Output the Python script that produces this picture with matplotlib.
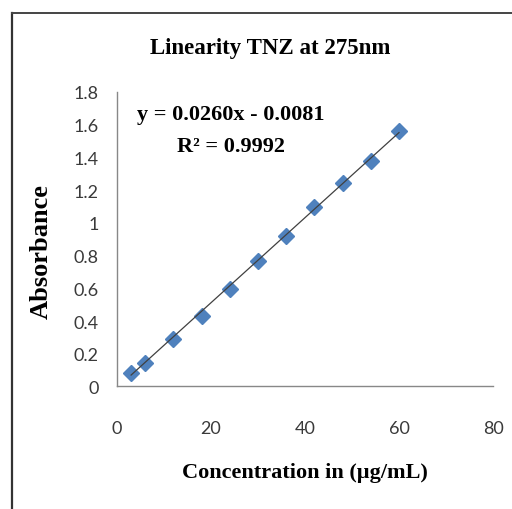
import numpy as np
import matplotlib
matplotlib.use('Agg')
import matplotlib.pyplot as plt
from matplotlib.lines import Line2D

# data
conc = [3, 6, 12, 18, 24, 30, 36, 42, 48, 54, 60]
absorb = [0.084, 0.143, 0.292, 0.431, 0.594, 0.767, 0.920, 1.094, 1.245, 1.376, 1.563]
slope = 0.0260
intercept = -0.0081
r2 = 0.9992
xticks = [0, 20, 40, 60, 80]
yticks = [0, 0.2, 0.4, 0.6, 0.8, 1, 1.2, 1.4, 1.6, 1.8]
ytick_labels = ['0', '0.2', '0.4', '0.6', '0.8', '1', '1.2', '1.4', '1.6', '1.8']

serif = 'Liberation Serif'
tickfont = 'Lato'

fig = plt.figure(figsize=(5.12, 5.10), dpi=100)
ax = fig.add_axes([0.2285, 0.2402, 0.7344, 0.5775])

x = np.array(conc)
fit_x = np.array([x.min(), x.max()])
ax.plot(fit_x, slope * fit_x + intercept, color='#404040', linewidth=0.9, zorder=3)
ax.plot(x, absorb, linestyle='none', marker='D', markersize=8,
        color='#4F81BD', markeredgecolor='#4F81BD', zorder=2)

ax.set_xlim(0, 80)
ax.set_ylim(0, 1.8)
ax.set_xticks(xticks)
ax.set_yticks(yticks)
ax.set_yticklabels(ytick_labels)
ax.tick_params(length=0, labelsize=13, colors='#3a3a3a')
ax.tick_params(axis='x', pad=24)
ax.tick_params(axis='y', pad=13)
for lab in ax.get_xticklabels() + ax.get_yticklabels():
    lab.set_fontfamily(tickfont)

for s in ['top', 'right']:
    ax.spines[s].set_visible(False)
for s in ['left', 'bottom']:
    ax.spines[s].set_color('#888888')
    ax.spines[s].set_linewidth(1.0)

ax.set_xlabel('Concentration in (\u00b5g/mL)', fontfamily=serif,
              fontweight='bold', fontsize=16)
ax.xaxis.set_label_coords(0.5, -0.255)
ax.set_ylabel('Absorbance', fontfamily=serif, fontweight='bold', fontsize=19)
ax.yaxis.set_label_coords(-0.172, 0.46)

ax.text(24.3, 1.665, 'y = 0.0260x - 0.0081', fontfamily=serif,
        fontweight='bold', fontsize=16, ha='center', va='center')
ax.text(24.3, 1.47, 'R\u00b2 = %.4f' % r2, fontfamily=serif,
        fontweight='bold', fontsize=16, ha='center', va='center')

fig.text(0.527, 0.904, 'Linearity TNZ at 275nm', fontfamily=serif,
         fontweight='bold', fontsize=16.5, ha='center', va='center')

# frame of the original chart area
fig.add_artist(Line2D([0.023, 0.023], [0.0, 0.972], color='#333333',
                      linewidth=1.6, transform=fig.transFigure))
fig.add_artist(Line2D([0.023, 1.0], [0.972, 0.972], color='#444444',
                      linewidth=1.4, transform=fig.transFigure))

fig.savefig('out.png', dpi=100)
